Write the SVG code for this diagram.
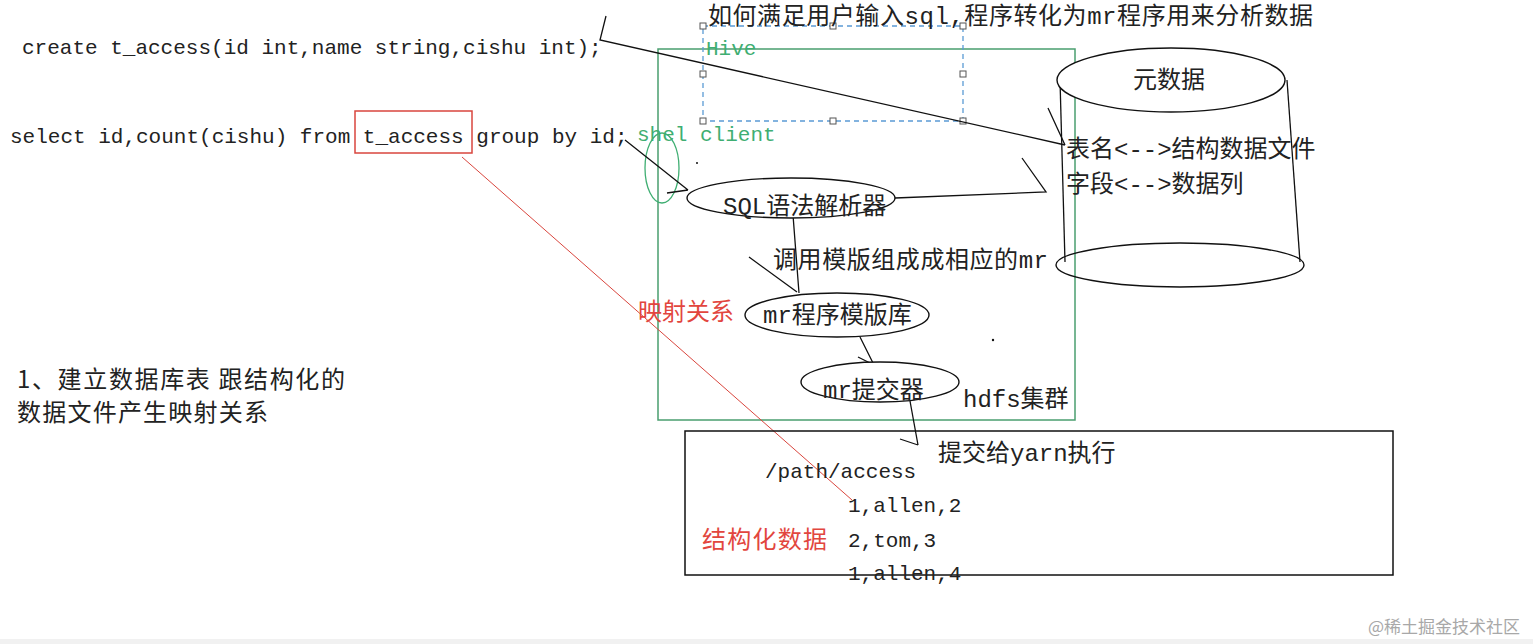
<svg xmlns="http://www.w3.org/2000/svg" width="1533" height="644" viewBox="0 0 1533 644">
<style>
.code{font-family:"Liberation Mono","Noto Sans CJK SC",monospace;font-size:21px;fill:#222}
.cn{font-family:"Liberation Mono","Noto Sans CJK SC",monospace;font-size:24px;fill:#222}
.cns{font-family:"Noto Sans CJK SC",sans-serif;font-size:24px;fill:#222}
.green{fill:#3fae72}
.red{fill:#e2463e}
.ln{fill:none;stroke:#111;stroke-width:1.3}
.el{fill:#fff;stroke:#111;stroke-width:1.4}
.handle{fill:#fff;stroke:#555;stroke-width:1}
</style>
<rect width="1533" height="644" fill="#fff"/>
<rect x="0" y="639" width="1533" height="5" fill="#f1f1f1"/>

<g id="hive-box">
<rect x="658" y="49" width="417" height="371" fill="none" stroke="#4a9e6f" stroke-width="1.5"/>
</g>
<g id="selection">
<rect x="703" y="26" width="260" height="95" fill="none" stroke="#5b9bd5" stroke-width="1.3" stroke-dasharray="5,4"/>
<rect class="handle" x="700" y="23" width="6" height="6"/>
<rect class="handle" x="830" y="23" width="6" height="6"/>
<rect class="handle" x="960" y="23" width="6" height="6"/>
<rect class="handle" x="700" y="71" width="6" height="6"/>
<rect class="handle" x="960" y="71" width="6" height="6"/>
<rect class="handle" x="700" y="118" width="6" height="6"/>
<rect class="handle" x="830" y="118" width="6" height="6"/>
<rect class="handle" x="960" y="118" width="6" height="6"/>
<text class="code green" x="706" y="55">Hive</text>
</g>

<g id="title">
<text class="cn" x="708" y="24" textLength="605">如何满足用户输入sql,程序转化为mr程序用来分析数据</text>
</g>

<g id="create-sql">
<text class="code" x="22" y="54">create t_access(id int,name string,cishu int);</text>
</g>
<g id="select-sql">
<text class="code" x="10" y="143">select id,count(cishu) from t_access group by id;</text>
<rect x="355" y="111" width="117" height="42" fill="none" stroke="#d9463e" stroke-width="1.5"/>
</g>

<g id="shell-client">
<ellipse cx="662" cy="168" rx="17" ry="35" fill="none" stroke="#3fae72" stroke-width="1.3"/>
<text class="code green" x="637" y="141">shel client</text>
</g>

<g id="metadata">
<path class="ln" d="M1060,80 L1065,262"/>
<path class="ln" d="M1287,80 L1300,262"/>
<ellipse cx="1180" cy="265" rx="124" ry="22" fill="none" stroke="#111" stroke-width="1.4"/>
<ellipse cx="1171" cy="80" rx="114" ry="32" fill="#fff" stroke="#111" stroke-width="1.4"/>
<text class="cns" x="1133" y="88">元数据</text>
<text class="cn" x="1066" y="157">表名&lt;--&gt;结构数据文件</text>
<text class="cn" x="1066" y="192">字段&lt;--&gt;数据列</text>
</g>

<g id="connectors">
<path class="ln" d="M606,16 L600,40 L1065,145 M1048,108 L1065,145"/>
<path class="ln" d="M625,140 L688,190 M667,193 L688,190"/>
<path class="ln" d="M895,198 L1046,192 L1022,158"/>
<path class="ln" d="M793,215 L799,293 M749,257 L797,292"/>
<path class="ln" d="M860,337 L874,365 M858,357 L874,365"/>
<path class="ln" d="M910,401 L918,445 M900,439 L918,445"/>
<path d="M462,157 L852,500" fill="none" stroke="#d9463e" stroke-width="1"/>
</g>

<g id="sql-parser">
<ellipse class="el" cx="791" cy="198" rx="104" ry="20" fill="none"/>
<text class="cn" x="723" y="214">SQL语法解析器</text>
</g>

<g id="template-label">
<text class="cn" x="773" y="268" textLength="275">调用模版组成成相应的mr</text>
</g>

<g id="mr-template">
<ellipse class="el" cx="837" cy="315" rx="92" ry="22" fill="none"/>
<text class="cn" x="763" y="323">mr程序模版库</text>
</g>

<g id="mapping-label">
<text class="cns red" x="638" y="320">映射关系</text>
</g>

<g id="mr-submitter">
<ellipse class="el" cx="880" cy="382" rx="79" ry="20" fill="none"/>
<text class="cn" x="823" y="398">mr提交器</text>
</g>

<g id="hdfs-label">
<text class="cn" x="963" y="407">hdfs集群</text>
</g>

<g id="data-box">
<rect x="685" y="431" width="708" height="144" fill="none" stroke="#111" stroke-width="1.5"/>
<text class="cn" x="938" y="461">提交给yarn执行</text>
<text class="code" x="765" y="478">/path/access</text>
<text class="code" x="848" y="512">1,allen,2</text>
<text class="code" x="848" y="547">2,tom,3</text>
<text class="code" x="848" y="580">1,allen,4</text>
<text class="cns red" x="702" y="548" textLength="125">结构化数据</text>
</g>

<g id="note">
<text class="cns" x="17" y="388" textLength="328">1、建立数据库表 跟结构化的</text>
<text class="cns" x="17" y="421" textLength="251">数据文件产生映射关系</text>
</g>

<g id="marks">
<circle cx="697" cy="163" r="1" fill="#111"/>
<circle cx="993" cy="340" r="1.2" fill="#111"/>
</g>

<g id="watermark">
<text x="1368" y="633" style="font-family:'Noto Sans CJK SC',sans-serif;font-size:17px;fill:#a8a8a8">@稀土掘金技术社区</text>
</g>
</svg>
